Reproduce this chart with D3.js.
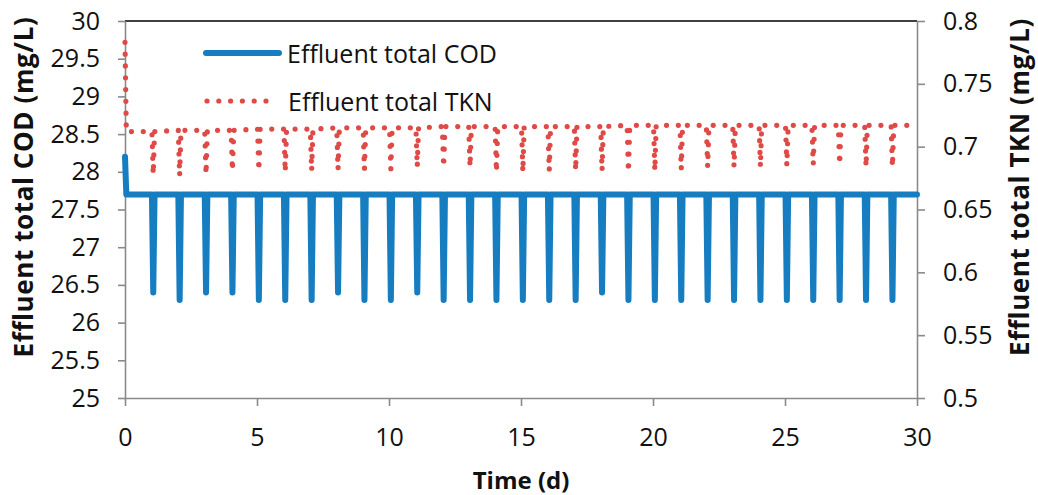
<!DOCTYPE html>
<html>
<head>
<meta charset="utf-8">
<script src="https://cdn.jsdelivr.net/npm/d3@7"></script>
<style>
  html, body { margin: 0; padding: 0; background: #fff; }
  svg { display: block; font-family: "Open Sans", "Noto Sans", sans-serif; }
  .tick text { fill: #111; }
</style>
</head>
<body>
<svg id="chart" width="1038" height="495"></svg>
<script>
// Axis ticks
const timeTicks = [0, 5, 10, 15, 20, 25, 30];
const timeTickLabels = ["0", "5", "10", "15", "20", "25", "30"];
const codTicks = [25, 25.5, 26, 26.5, 27, 27.5, 28, 28.5, 29, 29.5, 30];
const codTickLabels = ["25", "25.5", "26", "26.5", "27", "27.5", "28", "28.5", "29", "29.5", "30"];
const tknTicks = [0.5, 0.55, 0.6, 0.65, 0.7, 0.75, 0.8];
const tknTickLabels = ["0.5", "0.55", "0.6", "0.65", "0.7", "0.75", "0.8"];

// Series names
const seriesNames = ["Effluent total COD", "Effluent total TKN"];

// Daily dosing events (d) with the short drop in both effluent signals
const dipDays = [1, 2, 3, 4, 5, 6, 7, 8, 9, 10, 11, 12, 13, 14, 15, 16, 17, 18, 19, 20,
                 21, 22, 23, 24, 25, 26, 27, 28, 29];
// Offsets inside each event (d): start, lowest point, recovery
const dipOffsets = [0.02, 0.07, 0.12];

// Effluent total COD (mg/L)
const codStart = 28.2;
const codSteady = 27.7;
const codDipMin = [26.4, 26.3, 26.4, 26.4, 26.3, 26.3, 26.3, 26.4, 26.3, 26.3,
                   26.4, 26.3, 26.3, 26.3, 26.3, 26.3, 26.3, 26.4, 26.3, 26.3,
                   26.3, 26.3, 26.3, 26.3, 26.3, 26.3, 26.3, 26.3, 26.3];

// Effluent total TKN (mg/L)
const tknStart = 0.783;
// Level between events, one value per day 0..30
const tknSteady = [0.712, 0.712, 0.713, 0.713, 0.713, 0.714, 0.714, 0.714, 0.715, 0.715,
                   0.715, 0.715, 0.716, 0.716, 0.716, 0.716, 0.716, 0.716, 0.716, 0.717,
                   0.717, 0.717, 0.717, 0.717, 0.717, 0.717, 0.717, 0.717, 0.717, 0.717, 0.717];
const tknDipMin = [0.678, 0.677, 0.678, 0.681, 0.681, 0.680, 0.681, 0.682, 0.682, 0.682,
                   0.684, 0.684, 0.684, 0.680, 0.680, 0.681, 0.681, 0.681, 0.680, 0.681,
                   0.682, 0.684, 0.684, 0.684, 0.685, 0.686, 0.686, 0.684, 0.684];

// Build point lists for the two series
const codPoints = [[0, codStart], [0.05, codSteady]];
dipDays.forEach((d, i) => {
  codPoints.push([d + dipOffsets[0], codSteady]);
  codPoints.push([d + dipOffsets[1], codDipMin[i]]);
  codPoints.push([d + dipOffsets[2], codSteady]);
});
codPoints.push([30, codSteady]);

const tknPoints = [[0, tknStart], [0.05, tknSteady[0]]];
dipDays.forEach((d, i) => {
  tknPoints.push([d + dipOffsets[0], tknSteady[d]]);
  tknPoints.push([d + dipOffsets[1], tknDipMin[i]]);
  tknPoints.push([d + dipOffsets[2], tknSteady[d]]);
});
tknPoints.push([30, tknSteady[30]]);

// Layout
const plot = { left: 125, right: 917, top: 21, bottom: 398 };
const codColor = "#177DC1";
const tknColor = "#DF4A47";
const axisColor = "#8A8A8A";

const svg = d3.select("#chart");

const x = d3.scaleLinear().domain([0, 30]).range([plot.left, plot.right]);
const yCod = d3.scaleLinear().domain([25, 30]).range([plot.bottom, plot.top]);
const yTkn = d3.scaleLinear().domain([0.5, 0.8]).range([plot.bottom, plot.top]);

// Top frame line
svg.append("line")
  .attr("x1", plot.left).attr("x2", plot.right)
  .attr("y1", plot.top).attr("y2", plot.top)
  .attr("stroke", "#000").attr("stroke-width", 1.3);

function styleAxis(g) {
  g.select(".domain").attr("stroke", axisColor).attr("stroke-width", 1.6);
  g.selectAll(".tick line").attr("stroke", axisColor).attr("stroke-width", 1.6);
  g.selectAll(".tick text").attr("font-size", 25).attr("font-family", "'Open Sans', sans-serif");
}

// Bottom axis
svg.append("g")
  .attr("transform", `translate(0,${plot.bottom})`)
  .call(d3.axisBottom(x).tickValues(timeTicks)
    .tickFormat((d, i) => timeTickLabels[i])
    .tickSize(8).tickSizeOuter(0).tickPadding(22))
  .call(styleAxis);

// Left axis
svg.append("g")
  .attr("transform", `translate(${plot.left},0)`)
  .call(d3.axisLeft(yCod).tickValues(codTicks)
    .tickFormat((d, i) => codTickLabels[i])
    .tickSize(7).tickSizeOuter(0).tickPadding(18))
  .call(styleAxis);

// Right axis
svg.append("g")
  .attr("transform", `translate(${plot.right},0)`)
  .call(d3.axisRight(yTkn).tickValues(tknTicks)
    .tickFormat((d, i) => tknTickLabels[i])
    .tickSize(8).tickSizeOuter(0).tickPadding(18))
  .call(styleAxis);

// Axis titles
svg.append("text")
  .attr("x", (plot.left + plot.right) / 2).attr("y", 489)
  .attr("text-anchor", "middle")
  .attr("font-size", 24).attr("font-weight", "bold").attr("fill", "#111")
  .text("Time (d)");

svg.append("text")
  .attr("transform", "translate(33,187) rotate(-90)")
  .attr("text-anchor", "middle")
  .attr("font-size", 26).attr("font-weight", "bold").attr("fill", "#111")
  .attr("letter-spacing", 0.6)
  .text("Effluent total COD (mg/L)");

svg.append("text")
  .attr("transform", "translate(1029,187) rotate(-90)")
  .attr("text-anchor", "middle")
  .attr("font-size", 26).attr("font-weight", "bold").attr("fill", "#111")
  .attr("letter-spacing", 0.6)
  .text("Effluent total TKN (mg/L)");

// Series lines
const codLine = d3.line().x(d => x(d[0])).y(d => yCod(d[1]));
const tknLine = d3.line().x(d => x(d[0])).y(d => yTkn(d[1]));

svg.append("path")
  .datum(tknPoints)
  .attr("d", tknLine)
  .attr("fill", "none")
  .attr("stroke", tknColor)
  .attr("stroke-width", 5.2)
  .attr("stroke-linecap", "round")
  .attr("stroke-linejoin", "round")
  .attr("stroke-dasharray", "0 11.8");

svg.append("path")
  .datum(codPoints)
  .attr("d", codLine)
  .attr("fill", "none")
  .attr("stroke", codColor)
  .attr("stroke-width", 6)
  .attr("stroke-linecap", "round")
  .attr("stroke-linejoin", "round");

// Legend
const legend = svg.append("g");
legend.append("line")
  .attr("x1", 206).attr("x2", 279).attr("y1", 53).attr("y2", 53)
  .attr("stroke", codColor).attr("stroke-width", 6).attr("stroke-linecap", "round");
legend.append("text")
  .attr("x", 287).attr("y", 63)
  .attr("font-size", 25).attr("fill", "#111")
  .text(seriesNames[0]);

legend.append("line")
  .attr("x1", 207).attr("x2", 268).attr("y1", 101).attr("y2", 101)
  .attr("stroke", tknColor).attr("stroke-width", 5.2)
  .attr("stroke-linecap", "round").attr("stroke-dasharray", "0 11.8");
legend.append("text")
  .attr("x", 288).attr("y", 111)
  .attr("font-size", 25).attr("fill", "#111")
  .text(seriesNames[1]);
</script>
</body>
</html>
